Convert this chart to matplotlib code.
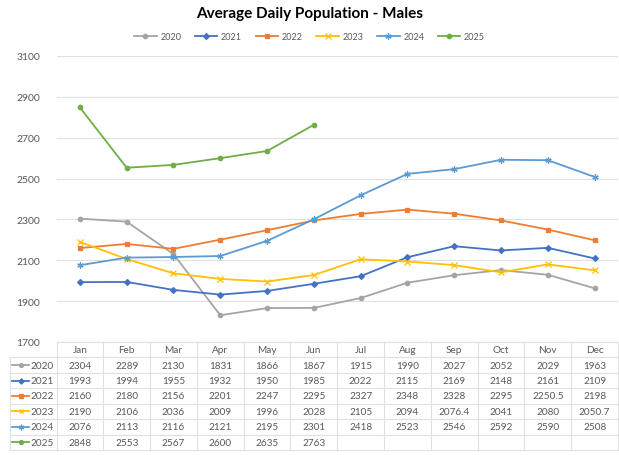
import numpy as np
import matplotlib.pyplot as plt

plt.rcParams['font.family'] = ['Lato', 'DejaVu Sans']

months = ['Jan', 'Feb', 'Mar', 'Apr', 'May', 'Jun', 'Jul', 'Aug', 'Sep', 'Oct', 'Nov', 'Dec']
years = ['2020', '2021', '2022', '2023', '2024', '2025']

v2020 = [2304, 2289, 2130, 1831, 1866, 1867, 1915, 1990, 2027, 2052, 2029, 1963]
v2021 = [1993, 1994, 1955, 1932, 1950, 1985, 2022, 2115, 2169, 2148, 2161, 2109]
v2022 = [2160, 2180, 2156, 2201, 2247, 2295, 2327, 2348, 2328, 2295, 2250.5, 2198]
v2023 = [2190, 2106, 2036, 2009, 1996, 2028, 2105, 2094, 2076.4, 2041, 2080, 2050.7]
v2024 = [2076, 2113, 2116, 2121, 2195, 2301, 2418, 2523, 2546, 2592, 2590, 2508]
v2025 = [2848, 2553, 2567, 2600, 2635, 2763]

series = [v2020, v2021, v2022, v2023, v2024, v2025]
colors = ['#A5A5A5', '#4472C4', '#ED7D31', '#FFC000', '#5B9BD5', '#70AD47']
markers = ['o', 'D', 's', 'x', (6, 2, 0), 'o']
msizes = [3.2, 3, 3.5, 3.8, 4.5, 3.2]

txt = '#595959'
grid = '#E0E0E0'

fig = plt.figure(figsize=(6.19, 4.56), dpi=100)
W, H = 619, 456
x0, x1 = 56.5 / W, 618 / W
ax = fig.add_axes([x0, 1 - 343 / H, x1 - x0, (343 - 57) / H])

for name, vals, c, m, ms in zip(years, series, colors, markers, msizes):
    ax.plot(np.arange(len(vals)), vals, color=c, marker=m, markersize=ms,
            linewidth=1.3, label=name, markeredgewidth=0.9)

ax.set_xlim(-0.5, 11.5)
ax.set_ylim(1700, 3100)
ax.set_yticks(np.arange(1700, 3101, 200))
ax.set_xticks([])
ax.grid(axis='y', color=grid, linewidth=0.8)
ax.set_axisbelow(True)
for s in ax.spines.values():
    s.set_visible(False)
ax.tick_params(axis='y', length=0, labelsize=7.5, labelcolor=txt, pad=12)

fig.text(0.5, 1 - 14 / H, 'Average Daily Population - Males', ha='center', va='center',
         fontsize=11, fontweight='bold', color='black')
fig.legend(loc='center', bbox_to_anchor=(0.5, 1 - 38 / H), ncol=6, frameon=False,
           fontsize=6.5, labelcolor=txt, handlelength=2.5, columnspacing=1.5,
           handletextpad=0.4)

# data table
tab = fig.add_axes([x0, 1 - 451 / H, x1 - x0, (451 - 343) / H])
tab.set_xlim(-0.5, 11.5)
tab.set_ylim(7, 0)
tab.axis('off')
lw = 0.8
tab.plot([-0.5, 11.5], [0, 0], color=grid, lw=lw, clip_on=False)
for r in range(1, 8):
    tab.plot([-1.5, 11.5], [r, r], color=grid, lw=lw, clip_on=False)
tab.plot([-1.5, -1.5], [1, 7], color=grid, lw=lw, clip_on=False)
for cx in np.arange(-0.5, 12, 1):
    tab.plot([cx, cx], [0, 7], color=grid, lw=lw, clip_on=False)

for i, mo in enumerate(months):
    tab.text(i, 0.5, mo, ha='center', va='center', fontsize=7.2, color=txt)

for r, (name, vals, c, m, ms) in enumerate(zip(years, series, colors, markers, msizes)):
    y = r + 1.5
    tab.plot([-1.45, -1.08], [y, y], color=c, lw=1.3, clip_on=False)
    tab.plot([-1.265], [y], color=c, marker=m, markersize=ms * 0.9,
             markeredgewidth=0.9, clip_on=False)
    tab.text(-0.56, y, name, ha='right', va='center', fontsize=7.2, color=txt)
    for i, v in enumerate(vals):
        tab.text(i, y, f'{v:g}', ha='center', va='center', fontsize=7.2, color=txt)

fig.savefig('out.png', dpi=100)
